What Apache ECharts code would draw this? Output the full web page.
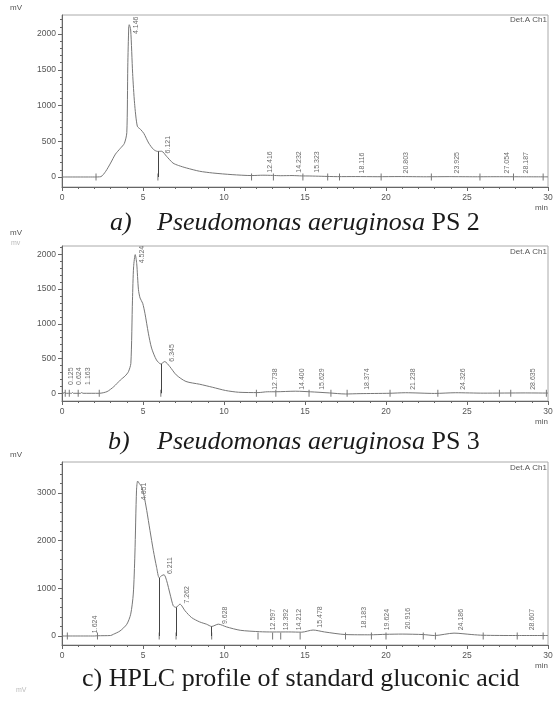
<!DOCTYPE html>
<html>
<head>
<meta charset="utf-8">
<script src="https://cdn.jsdelivr.net/npm/echarts@6/dist/echarts.min.js"></script>
<style>
  html, body { margin: 0; padding: 0; background: #fff; }
  #chart { width: 558px; height: 701px; }
</style>
</head>
<body>
<div id="chart"></div>
<script>
// a) Pseudomonas aeruginosa PS 2
const timeA = [0, 2.0, 2.4, 2.7, 3.0, 3.3, 3.6, 3.85, 4.0, 4.06, 4.12, 4.15, 4.24, 4.36, 4.48, 4.65, 4.85, 5.05, 5.35, 5.65, 5.9, 6.15, 6.45, 6.85, 7.2, 7.7, 8.5, 9.3, 10.5, 11.7, 12.4, 13.0, 13.5, 14.2, 14.8, 15.3, 16.0, 17.0, 18.1, 19.5, 20.8, 22.5, 23.9, 25.5, 27.0, 28.2, 30]
const signalA = [0, 0, 5, 80, 195, 320, 400, 470, 620, 1540, 2100, 2130, 2056, 1450, 1030, 710, 665, 610, 475, 385, 358, 360, 290, 195, 160, 125, 80, 56, 33, 20, 25, 22, 18, 20, 15, 14, 10, 5, 6, 4, 6, 3, 5, 3, 4, 3, 2]
const dropTimeA = [5.92]
const dropHeightA = [358]
const markTimeA = [2.1, 5.92, 11.7, 13.05, 14.87, 16.4, 17.13, 19.7, 22.8, 25.8, 27.87, 29.7]
const peakTimeA = [4.146, 6.121, 12.416, 14.232, 15.323, 18.116, 20.803, 23.925, 27.054, 28.187]
const peakLabelAtA = [2000, 330, 60, 60, 60, 50, 50, 50, 50, 50]

// b) Pseudomonas aeruginosa PS 3
const timeB = [0, 0.1, 0.13, 0.2, 0.6, 0.65, 0.7, 1.15, 1.2, 1.3, 2.3, 2.78, 3.2, 3.6, 3.9, 4.1, 4.25, 4.35, 4.42, 4.52, 4.61, 4.72, 4.82, 4.98, 5.12, 5.33, 5.53, 5.83, 6.1, 6.34, 6.65, 7.05, 7.65, 8.5, 9.3, 10.1, 10.9, 12.1, 12.7, 13.2, 14.4, 15.6, 16.5, 17.5, 18.4, 20.2, 21.2, 23.0, 24.3, 26.0, 28.6, 30]
const signalB = [0, 0, 15, 0, 0, 12, 0, 0, 10, 0, 0, 24, 96, 190, 250, 310, 430, 1340, 1820, 1995, 1870, 1490, 1370, 1295, 1150, 865, 650, 480, 422, 456, 385, 265, 170, 130, 86, 40, 15, 10, 22, 22, 30, 18, 5, -10, -5, 0, 8, -2, 8, 2, 5, 3]
const dropTimeB = [6.1]
const dropHeightB = [422]
const markTimeB = [0.2, 0.45, 1.0, 2.3, 6.1, 12.0, 13.2, 15.25, 16.6, 17.6, 20.25, 23.2, 27.0, 27.7, 29.9]
const peakTimeB = [0.125, 0.624, 1.163, 4.524, 6.345, 12.738, 14.400, 15.629, 18.374, 21.238, 24.326, 28.635]
const peakLabelAtB = [120, 120, 120, 1870, 455, 50, 50, 50, 50, 50, 50, 50]

// c) standard gluconic acid
const timeC = [0, 2.0, 2.2, 3.0, 3.17, 3.58, 4.0, 4.24, 4.4, 4.5, 4.6, 4.67, 4.77, 4.92, 5.06, 5.23, 5.43, 5.64, 5.84, 6.0, 6.15, 6.3, 6.46, 6.67, 6.87, 7.04, 7.28, 7.6, 8.0, 8.5, 8.93, 9.24, 9.65, 10.16, 11.0, 12.2, 13.0, 14.0, 14.8, 15.5, 16.2, 17.5, 19.0, 20.0, 21.0, 22.3, 23.0, 24.2, 25.3, 26.0, 28.0, 30]
const signalC = [0, 0, 5, 10, 35, 105, 246, 457, 880, 1720, 3060, 3250, 3200, 3130, 2950, 2635, 2215, 1790, 1440, 1220, 1265, 1285, 1160, 880, 632, 600, 668, 527, 386, 295, 246, 200, 248, 190, 120, 90, 84, 85, 80, 125, 85, 30, 25, 35, 40, 30, 10, 60, 30, 15, 10, 10]
const dropTimeC = [6.0, 7.04, 9.24]
const dropHeightC = [1220, 600, 200]
const markTimeC = [0.33, 2.19, 6.0, 7.04, 9.24, 12.1, 13.0, 13.5, 14.7, 17.5, 19.1, 20.0, 22.3, 23.05, 26.0, 28.1, 29.7]
const peakTimeC = [1.624, 4.651, 6.211, 7.262, 9.628, 12.597, 13.392, 14.212, 15.478, 18.183, 19.624, 20.916, 24.186, 28.607]
const peakLabelAtC = [60, 2850, 1300, 680, 250, 120, 120, 120, 175, 160, 120, 140, 120, 120]

// axis ticks
const yTicksA = [0, 500, 1000, 1500, 2000]
const yTicksB = [0, 500, 1000, 1500, 2000]
const yTicksC = [0, 1000, 2000, 3000]

const panels = [
  { time: timeA, signal: signalA, dropT: dropTimeA, dropH: dropHeightA, marks: markTimeA, peaks: peakTimeA, peakAt: peakLabelAtA,
    ticks: yTicksA, minorStep: 100, min: -140, max: 2266, top: 15, height: 172 },
  { time: timeB, signal: signalB, dropT: dropTimeB, dropH: dropHeightB, marks: markTimeB, peaks: peakTimeB, peakAt: peakLabelAtB,
    ticks: yTicksB, minorStep: 100, min: -111, max: 2119, top: 246, height: 155 },
  { time: timeC, signal: signalC, dropT: dropTimeC, dropH: dropHeightC, marks: markTimeC, peaks: peakTimeC, peakAt: peakLabelAtC,
    ticks: yTicksC, minorStep: 200, min: -189, max: 3650, top: 462, height: 183 }
]

const axisColor = '#666'
const textColor = '#555'
const tickFont = 'Liberation Sans'

const grid = []
const xAxis = []
const yAxis = []
const series = []

panels.forEach((p, i) => {
  grid.push({
    left: 62, width: 486, top: p.top, height: p.height,
    show: true, borderColor: '#aaa', borderWidth: 1, backgroundColor: 'transparent'
  })
  xAxis.push({
    type: 'value', gridIndex: i, min: 0, max: 30, interval: 5,
    axisLine: { onZero: false, lineStyle: { color: axisColor, width: 1 } },
    axisTick: { length: 4, lineStyle: { color: axisColor } },
    minorTick: { show: true, splitNumber: 5, length: 2, lineStyle: { color: axisColor } },
    axisLabel: { color: textColor, fontSize: 8.5, fontFamily: tickFont, margin: 6 },
    splitLine: { show: false }
  })
  const minor = []
  for (let v = 0; v <= p.max; v += p.minorStep) minor.push(v)
  yAxis.push({
    type: 'value', gridIndex: i, min: p.min, max: p.max,
    axisLine: { onZero: false, lineStyle: { color: axisColor, width: 1 } },
    axisTick: { customValues: p.ticks, length: 4, lineStyle: { color: axisColor } },
    axisLabel: {
      customValues: p.ticks, color: textColor, fontSize: 8.5, fontFamily: tickFont, margin: 6,
      formatter: (v) => String(v)
    },
    splitLine: { show: false }
  })
  yAxis.push({
    type: 'value', gridIndex: i, min: p.min, max: p.max, position: 'left',
    axisLine: { show: false, onZero: false },
    axisTick: { customValues: minor, length: 2, lineStyle: { color: axisColor } },
    axisLabel: { show: false },
    splitLine: { show: false }
  })
  const yIdx = i * 2

  series.push({
    type: 'line', xAxisIndex: i, yAxisIndex: yIdx,
    data: p.time.map((t, k) => [t, p.signal[k]]),
    showSymbol: false, smooth: 0.25, silent: true,
    lineStyle: { color: '#777', width: 1 },
    markLine: {
      symbol: 'none', silent: true, label: { show: false },
      lineStyle: { color: '#444', width: 1, type: 'solid' },
      data: p.dropT.map((t, k) => [{ coord: [t, 0] }, { coord: [t, p.dropH[k]] }])
    }
  })
  series.push({
    type: 'scatter', xAxisIndex: i, yAxisIndex: yIdx, silent: true,
    symbol: 'rect', symbolSize: [1, 7],
    itemStyle: { color: '#555' },
    data: p.marks.map(t => [t, 0])
  })
  series.push({
    type: 'scatter', xAxisIndex: i, yAxisIndex: yIdx, silent: true,
    symbol: 'circle', symbolSize: 1,
    itemStyle: { color: 'rgba(0,0,0,0)' },
    label: {
      show: true, position: 'inside', rotate: 90,
      align: 'left', verticalAlign: 'middle', offset: [0, 7],
      color: '#444', fontSize: 7, fontFamily: tickFont,
      formatter: (d) => d.value[0].toFixed(3)
    },
    data: p.peaks.map((t, k) => [t, p.peakAt[k]])
  })
})

const small = (x, y, text, extra) => ({
  type: 'text', x, y, silent: true,
  style: Object.assign({ text, fill: textColor, font: '8px "Liberation Sans"', textVerticalAlign: 'middle' }, extra || {})
})

const graphic = [
  small(10, 8, 'mV'),
  small(10, 233, 'mV'),
  small(11, 243, 'mv', { fill: '#bbb', font: '7px "Liberation Sans"' }),
  small(10, 455, 'mV'),
  small(16, 690, 'mV', { fill: '#bbb', font: '7px "Liberation Sans"' }),
  small(547, 20, 'Det.A Ch1', { textAlign: 'right' }),
  small(547, 252, 'Det.A Ch1', { textAlign: 'right' }),
  small(547, 468, 'Det.A Ch1', { textAlign: 'right' }),
  small(548, 208, 'min', { textAlign: 'right' }),
  small(548, 422, 'min', { textAlign: 'right' }),
  small(548, 666, 'min', { textAlign: 'right' })
]

const capStyle = {
  color: '#1a1a1a', fontFamily: 'Liberation Serif', fontSize: 26, lineHeight: 26, fontWeight: 'normal',
  rich: {
    i: { fontStyle: 'italic', fontFamily: 'Liberation Serif', fontSize: 26, lineHeight: 26, color: '#1a1a1a' },
    n: { fontFamily: 'Liberation Serif', fontSize: 26, lineHeight: 26, color: '#1a1a1a' }
  }
}
const title = [
  { text: '{i|a)}', left: 110, top: 210, padding: 0, textStyle: capStyle },
  { text: '{i|Pseudomonas aeruginosa}{n| PS 2}', left: 157, top: 210, padding: 0, textStyle: capStyle },
  { text: '{i|b)}', left: 108, top: 429, padding: 0, textStyle: capStyle },
  { text: '{i|Pseudomonas aeruginosa}{n| PS 3}', left: 157, top: 429, padding: 0, textStyle: capStyle },
  { text: 'c) HPLC profile of standard gluconic acid', left: 82, top: 666, padding: 0, textStyle: capStyle }
]

const chart = echarts.init(document.getElementById('chart'), null, { renderer: 'canvas' })
chart.setOption({
  animation: false,
  backgroundColor: '#fff',
  title,
  grid,
  xAxis,
  yAxis,
  series,
  graphic
})
window.addEventListener('resize', () => chart.resize())
</script>
</body>
</html>
